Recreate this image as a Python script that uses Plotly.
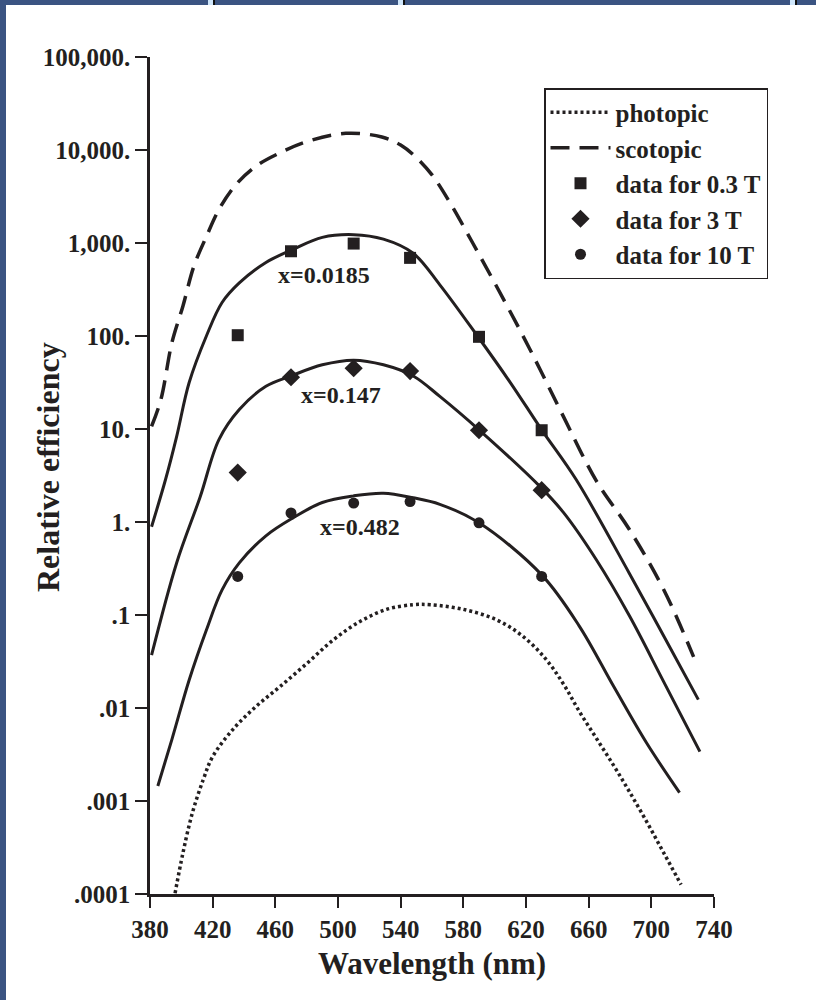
import numpy as np
import plotly.graph_objects as go

# ---------------- data ----------------
scot_wl = [381, 387, 394, 401, 408, 416, 424, 435, 448, 463, 480, 505, 528, 540, 550, 560,
           571, 586, 601, 616, 629, 644, 665, 686, 708, 727]
scot_val = [10.7, 20.9, 85, 209, 562, 1175, 2290, 4270, 6760, 9330, 12300, 15100, 13800,
            11300, 8300, 5400, 2800, 1000, 347, 117, 43.7, 13.5, 2.75, 0.83, 0.186, 0.0355]

phot_wl = [396, 401, 407, 414, 420, 433, 448, 463, 480, 497, 514, 531, 548, 559, 580,
           601, 618, 633, 644, 654, 665, 676, 686, 697, 708, 719]
phot_val = [0.000102, 0.000275, 0.00074, 0.0017, 0.0030, 0.0059, 0.0105, 0.017, 0.030,
            0.054, 0.085, 0.115, 0.129, 0.129, 0.115, 0.089, 0.059, 0.033, 0.018, 0.0092,
            0.0047, 0.0024, 0.00126, 0.0006, 0.000275, 0.000126]

fit03_wl = [381, 390, 397, 405, 416, 426, 437, 454, 471, 490, 510, 529, 548, 565, 589,
            610, 630, 652, 686, 708, 730]
fit03_val = [0.89, 2.9, 8.3, 31.6, 100, 229, 372, 617, 851, 1150, 1230, 1100, 776, 355,
             100, 31.6, 9.8, 2.86, 0.28, 0.059, 0.0123]

fit3_wl = [381, 397, 412, 424, 437, 454, 470, 490, 510, 529, 548, 565, 590, 629, 644,
           665, 686, 708, 731]
fit3_val = [0.037, 0.363, 1.86, 7.7, 16.2, 28.8, 37.2, 49, 55, 49, 37.2, 22.4, 9.8, 2.4,
            1.26, 0.39, 0.098, 0.019, 0.0034]

fit10_wl = [385, 394, 405, 416, 426, 437, 454, 471, 490, 510, 529, 548, 565, 590, 630,
            654, 676, 697, 718]
fit10_val = [0.00145, 0.0046, 0.020, 0.069, 0.186, 0.363, 0.71, 1.10, 1.62, 1.91, 2.04,
             1.82, 1.55, 0.98, 0.27, 0.076, 0.017, 0.0042, 0.00123]

data_wl = [436, 470, 510, 546, 590, 630]
data_03 = [102, 815, 986, 692, 98, 9.7]
data_3 = [3.4, 36, 45, 42, 9.7, 2.2]
data_10 = [0.26, 1.25, 1.6, 1.66, 0.98, 0.26]

fit_labels = ["x=0.0185", "x=0.147", "x=0.482"]
fit_label_wl = [491, 502, 514]
fit_label_val = [457, 23.4, 0.89]

y_tickvals = [1e5, 1e4, 1e3, 1e2, 1e1, 1, 0.1, 0.01, 0.001, 0.0001]
y_ticktext = ["100,000.", "10,000.", "1,000.", "100.", "10.", "1.", ".1", ".01", ".001", ".0001"]
x_tickvals = [380, 420, 460, 500, 540, 580, 620, 660, 700, 740]

# ---------------- styling ----------------
INK = "#231f20"
FONT = "Liberation Serif"
W, H = 816, 1000
L, R, T, B = 150, 102, 57, 106
PW, PH = W - L - R, H - T - B


def px_x(px):
    return (px - L) / PW


def px_y(py):
    return (H - B - py) / PH


fig = go.Figure()

fig.add_trace(go.Scatter(x=phot_wl, y=phot_val, mode="lines", name="photopic",
                         legendgroup="a",
                         line=dict(color=INK, width=3.5, dash="3px,3px", shape="spline")))
fig.add_trace(go.Scatter(x=scot_wl, y=scot_val, mode="lines", name="scotopic",
                         legendgroup="b",
                         line=dict(color=INK, width=3.5, dash="19px,10px", shape="spline")))
for wl, val in [(fit03_wl, fit03_val), (fit3_wl, fit3_val), (fit10_wl, fit10_val)]:
    fig.add_trace(go.Scatter(x=wl, y=val, mode="lines", showlegend=False,
                             line=dict(color=INK, width=3, shape="spline")))

fig.add_trace(go.Scatter(x=data_wl, y=data_03, mode="markers", name="data for 0.3 T",
                         legendgroup="c",
                         marker=dict(symbol="square", size=12, color=INK)))
fig.add_trace(go.Scatter(x=data_wl, y=data_3, mode="markers", name="data for 3 T",
                         legendgroup="d",
                         marker=dict(symbol="diamond", size=14, color=INK)))
fig.add_trace(go.Scatter(x=data_wl, y=data_10, mode="markers", name="data for 10 T",
                         legendgroup="e",
                         marker=dict(symbol="circle", size=11, color=INK)))

for txt, xw, yv in zip(fit_labels, fit_label_wl, fit_label_val):
    fig.add_annotation(x=xw, y=np.log10(yv), text=txt, showarrow=False,
                       font=dict(family=FONT, size=24, color=INK, weight="bold"))

# y-axis title placed as in the original (close to the short tick labels)
fig.add_annotation(xref="paper", yref="paper", x=px_x(48), y=px_y(467),
                   text="Relative efficiency", textangle=-90, showarrow=False,
                   xanchor="center", yanchor="middle",
                   font=dict(family=FONT, size=32, color=INK, weight="bold"))

# page border (dark blue frame of the original screenshot)
BORDER = "#3b5482"
fig.add_shape(type="rect", xref="paper", yref="paper", layer="above",
              x0=px_x(0), x1=px_x(6), y0=px_y(1000), y1=px_y(0),
              line=dict(width=0), fillcolor=BORDER)
fig.add_shape(type="rect", xref="paper", yref="paper", layer="above",
              x0=px_x(0), x1=px_x(816), y0=px_y(5), y1=px_y(0),
              line=dict(width=0), fillcolor=BORDER)
for mx in [208, 398, 790]:
    fig.add_shape(type="rect", xref="paper", yref="paper", layer="above",
                  x0=px_x(mx), x1=px_x(mx + 5), y0=px_y(5), y1=px_y(0),
                  line=dict(width=0), fillcolor="#cfe6fb")
    fig.add_shape(type="rect", xref="paper", yref="paper", layer="above",
                  x0=px_x(mx + 5), x1=px_x(mx + 7), y0=px_y(5), y1=px_y(0),
                  line=dict(width=0), fillcolor="#111111")

fig.update_layout(
    width=W, height=H,
    margin=dict(l=L, r=R, t=T, b=B, autoexpand=False),
    paper_bgcolor="white", plot_bgcolor="white",
    font=dict(family=FONT, color=INK, weight="bold"),
    showlegend=True,
    legend=dict(x=px_x(544), y=px_y(88), xanchor="left", yanchor="top",
                bgcolor="white", bordercolor=INK, borderwidth=1.5,
                font=dict(family=FONT, size=25, color=INK, weight="bold"),
                tracegroupgap=0, itemwidth=60, traceorder="grouped"),
)

fig.update_xaxes(range=[380, 740], tickvals=x_tickvals, ticktext=[str(v) for v in x_tickvals],
                 showline=True, linecolor=INK, linewidth=2.5, ticks="outside",
                 ticklen=11, tickwidth=2, tickcolor=INK, showgrid=False, zeroline=False,
                 tickfont=dict(family=FONT, size=25, color=INK, weight="bold"),
                 title=dict(text="Wavelength (nm)", standoff=11,
                            font=dict(family=FONT, size=31, color=INK, weight="bold")))
fig.update_yaxes(type="log", range=[-4, 5], tickvals=y_tickvals, ticktext=y_ticktext,
                 showline=True, linecolor=INK, linewidth=2.5, ticks="outside",
                 ticklen=12, tickwidth=2, tickcolor=INK, showgrid=False, zeroline=False,
                 tickfont=dict(family=FONT, size=25, color=INK, weight="bold"))

fig.write_html("out.html")
